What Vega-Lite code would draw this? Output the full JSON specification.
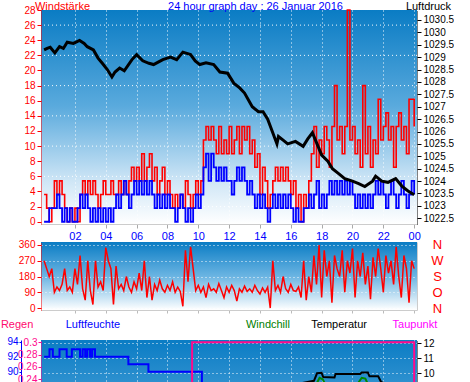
{
"$schema": "https://vega.github.io/schema/vega-lite/v6.json",
"padding": 0,
"background": "white",
"config": {
  "font": "Liberation Sans",
  "axis": {"labelFont": "Liberation Sans", "titleFont": "Liberation Sans", "labelFontSize": 10, "gridColor": "white", "gridDash": [1, 3], "gridOpacity": 0.95, "gridWidth": 1, "titleFontWeight": "normal"},
  "view": {"stroke": null}
},
"datasets": {
  "wind": [
    {"m":0,"g":3.6,"w":0},{"m":10,"g":1.8,"w":0},{"m":20,"g":0,"w":1.8},{"m":30,"g":1.8,"w":1.8},{"m":40,"g":5.4,"w":1.8},{"m":50,"g":3.6,"w":3.6},{"m":60,"g":5.4,"w":1.8},{"m":70,"g":3.6,"w":0},{"m":80,"g":1.8,"w":1.8},{"m":90,"g":0,"w":0},
    {"m":100,"g":1.8,"w":1.8},{"m":110,"g":0,"w":0},{"m":120,"g":1.8,"w":0},{"m":130,"g":0,"w":1.8},{"m":140,"g":3.6,"w":3.6},{"m":150,"g":5.4,"w":1.8},{"m":160,"g":3.6,"w":3.6},{"m":170,"g":5.4,"w":1.8},{"m":180,"g":3.6,"w":0},{"m":190,"g":5.4,"w":1.8},
    {"m":200,"g":3.6,"w":0},{"m":210,"g":1.8,"w":1.8},{"m":220,"g":3.6,"w":0},{"m":230,"g":5.4,"w":1.8},{"m":240,"g":3.6,"w":0},{"m":250,"g":3.6,"w":1.8},{"m":260,"g":5.4,"w":0},{"m":270,"g":3.6,"w":1.8},{"m":280,"g":3.6,"w":3.6},{"m":290,"g":5.4,"w":1.8},
    {"m":300,"g":3.6,"w":3.6},{"m":310,"g":5.4,"w":5.4},{"m":320,"g":3.6,"w":3.6},{"m":330,"g":5.4,"w":1.8},{"m":340,"g":7.2,"w":3.6},{"m":350,"g":5.4,"w":5.4},{"m":360,"g":7.2,"w":3.6},{"m":370,"g":5.4,"w":5.4},{"m":380,"g":9,"w":3.6},{"m":390,"g":5.4,"w":5.4},
    {"m":400,"g":7.2,"w":3.6},{"m":410,"g":9,"w":5.4},{"m":420,"g":5.4,"w":3.6},{"m":430,"g":7.2,"w":1.8},{"m":440,"g":3.6,"w":3.6},{"m":450,"g":5.4,"w":1.8},{"m":460,"g":7.2,"w":3.6},{"m":470,"g":3.6,"w":1.8},{"m":480,"g":5.4,"w":3.6},{"m":490,"g":3.6,"w":1.8},
    {"m":500,"g":1.8,"w":1.8},{"m":510,"g":3.6,"w":0},{"m":520,"g":1.8,"w":1.8},{"m":530,"g":3.6,"w":3.6},{"m":540,"g":1.8,"w":1.8},{"m":550,"g":5.4,"w":0},{"m":560,"g":3.6,"w":1.8},{"m":570,"g":1.8,"w":0},{"m":580,"g":3.6,"w":1.8},{"m":590,"g":5.4,"w":3.6},
    {"m":600,"g":3.6,"w":1.8},{"m":610,"g":5.4,"w":3.6},{"m":620,"g":10.8,"w":7.2},{"m":630,"g":12.6,"w":9},{"m":640,"g":10.8,"w":5.4},{"m":650,"g":12.6,"w":9},{"m":660,"g":10.8,"w":7.2},{"m":670,"g":9,"w":5.4},{"m":680,"g":12.6,"w":7.2},{"m":690,"g":9,"w":5.4},
    {"m":700,"g":10.8,"w":7.2},{"m":710,"g":9,"w":5.4},{"m":720,"g":12.6,"w":5.4},{"m":730,"g":9,"w":3.6},{"m":740,"g":10.8,"w":5.4},{"m":750,"g":12.6,"w":7.2},{"m":760,"g":9,"w":5.4},{"m":770,"g":12.6,"w":7.2},{"m":780,"g":10.8,"w":5.4},{"m":790,"g":12.6,"w":3.6},
    {"m":800,"g":9,"w":5.4},{"m":810,"g":10.8,"w":3.6},{"m":820,"g":7.2,"w":1.8},{"m":830,"g":9,"w":3.6},{"m":840,"g":3.6,"w":1.8},{"m":850,"g":7.2,"w":3.6},{"m":860,"g":5.4,"w":1.8},{"m":870,"g":1.8,"w":0},{"m":880,"g":3.6,"w":1.8},{"m":890,"g":5.4,"w":3.6},
    {"m":900,"g":7.2,"w":1.8},{"m":910,"g":5.4,"w":3.6},{"m":920,"g":7.2,"w":1.8},{"m":930,"g":5.4,"w":3.6},{"m":940,"g":7.2,"w":1.8},{"m":950,"g":5.4,"w":3.6},{"m":960,"g":3.6,"w":1.8},{"m":970,"g":5.4,"w":0},{"m":980,"g":1.8,"w":1.8},{"m":990,"g":3.6,"w":0},
    {"m":1000,"g":0,"w":0},{"m":1010,"g":3.6,"w":1.8},{"m":1020,"g":1.8,"w":1.8},{"m":1030,"g":5.4,"w":3.6},{"m":1040,"g":9,"w":1.8},{"m":1050,"g":12.6,"w":3.6},{"m":1060,"g":7.2,"w":5.4},{"m":1070,"g":10.8,"w":1.8},{"m":1080,"g":9,"w":3.6},{"m":1090,"g":12.6,"w":1.8},
    {"m":1100,"g":10.8,"w":3.6},{"m":1110,"g":7.2,"w":5.4},{"m":1120,"g":12.6,"w":3.6},{"m":1130,"g":18,"w":5.4},{"m":1140,"g":10.8,"w":3.6},{"m":1150,"g":12.6,"w":5.4},{"m":1160,"g":9,"w":3.6},{"m":1170,"g":12.6,"w":5.4},{"m":1180,"g":28,"w":3.6},{"m":1190,"g":10.8,"w":5.4},
    {"m":1200,"g":12.6,"w":3.6},{"m":1210,"g":9,"w":1.8},{"m":1220,"g":10.8,"w":3.6},{"m":1230,"g":7.2,"w":1.8},{"m":1240,"g":18,"w":3.6},{"m":1250,"g":9,"w":1.8},{"m":1260,"g":12.6,"w":3.6},{"m":1270,"g":7.2,"w":1.8},{"m":1280,"g":10.8,"w":3.6},{"m":1290,"g":9,"w":5.4},
    {"m":1300,"g":16.2,"w":3.6},{"m":1310,"g":10.8,"w":5.4},{"m":1320,"g":12.6,"w":3.6},{"m":1330,"g":14.4,"w":1.8},{"m":1340,"g":10.8,"w":3.6},{"m":1350,"g":12.6,"w":5.4},{"m":1360,"g":7.2,"w":3.6},{"m":1370,"g":12.6,"w":1.8},{"m":1380,"g":14.4,"w":3.6},{"m":1390,"g":10.8,"w":5.4},
    {"m":1400,"g":12.6,"w":3.6},{"m":1410,"g":9,"w":1.8},{"m":1420,"g":16.2,"w":3.6},{"m":1430,"g":16.2,"w":5.4},{"m":1440,"g":12.6,"w":3.6}
  ],
  "pres": [
    {"m":0,"p":1029.29},{"m":12,"p":1029.35},{"m":24,"p":1029.4},{"m":42,"p":1029.17},{"m":60,"p":1029.42},{"m":75,"p":1029.35},{"m":90,"p":1029.6},{"m":114,"p":1029.55},{"m":138,"p":1029.67},{"m":156,"p":1029.55},
    {"m":168,"p":1029.42},{"m":192,"p":1029.29},{"m":210,"p":1028.96},{"m":225,"p":1028.77},{"m":246,"p":1028.5},{"m":264,"p":1028.2},{"m":276,"p":1028.4},{"m":294,"p":1028.56},{"m":312,"p":1028.45},{"m":342,"p":1028.9},
    {"m":360,"p":1029.1},{"m":384,"p":1028.85},{"m":408,"p":1028.75},{"m":426,"p":1028.7},{"m":444,"p":1028.8},{"m":462,"p":1028.9},{"m":492,"p":1029.0},{"m":516,"p":1028.9},{"m":540,"p":1029.2},{"m":570,"p":1029.1},
    {"m":588,"p":1028.85},{"m":606,"p":1028.7},{"m":630,"p":1028.77},{"m":660,"p":1028.7},{"m":684,"p":1028.4},{"m":714,"p":1028.35},{"m":738,"p":1027.95},{"m":762,"p":1027.75},{"m":780,"p":1027.55},{"m":810,"p":1027.0},
    {"m":834,"p":1026.8},{"m":852,"p":1026.8},{"m":870,"p":1026.5},{"m":888,"p":1026.0},{"m":906,"p":1025.5},{"m":912,"p":1025.8},{"m":930,"p":1025.65},{"m":948,"p":1025.5},{"m":978,"p":1025.6},{"m":1008,"p":1025.4},
    {"m":1026,"p":1025.7},{"m":1044,"p":1025.95},{"m":1062,"p":1025.5},{"m":1080,"p":1025.05},{"m":1104,"p":1024.8},{"m":1122,"p":1024.5},{"m":1146,"p":1024.3},{"m":1170,"p":1024.1},{"m":1200,"p":1024.0},{"m":1224,"p":1023.9},
    {"m":1248,"p":1023.78},{"m":1278,"p":1024.0},{"m":1290,"p":1024.2},{"m":1314,"p":1024.0},{"m":1338,"p":1023.95},{"m":1368,"p":1024.1},{"m":1392,"p":1023.8},{"m":1416,"p":1023.6},{"m":1440,"p":1023.45}
  ],
  "hgrid": [{"v":2},{"v":6},{"v":10},{"v":14},{"v":18},{"v":22},{"v":26}],
  "dir": [
    {"m":0,"d":270},{"m":10,"d":225},{"m":20,"d":180},{"m":30,"d":225},{"m":40,"d":90},{"m":50,"d":120},{"m":60,"d":100},{"m":70,"d":135},{"m":80,"d":225},{"m":90,"d":100},
    {"m":100,"d":120},{"m":110,"d":90},{"m":120,"d":225},{"m":130,"d":135},{"m":140,"d":300},{"m":150,"d":110},{"m":160,"d":45},{"m":170,"d":270},{"m":180,"d":100},{"m":190,"d":20},
    {"m":200,"d":270},{"m":210,"d":120},{"m":220,"d":150},{"m":230,"d":100},{"m":240,"d":345},{"m":250,"d":270},{"m":260,"d":225},{"m":270,"d":20},{"m":280,"d":240},{"m":290,"d":110},
    {"m":300,"d":135},{"m":310,"d":100},{"m":320,"d":180},{"m":330,"d":120},{"m":340,"d":90},{"m":350,"d":150},{"m":360,"d":110},{"m":370,"d":200},{"m":380,"d":100},{"m":390,"d":270},
    {"m":400,"d":60},{"m":410,"d":180},{"m":420,"d":45},{"m":430,"d":135},{"m":440,"d":100},{"m":450,"d":160},{"m":460,"d":110},{"m":470,"d":90},{"m":480,"d":130},{"m":490,"d":100},
    {"m":500,"d":150},{"m":510,"d":90},{"m":520,"d":120},{"m":530,"d":95},{"m":540,"d":10},{"m":550,"d":330},{"m":560,"d":150},{"m":570,"d":350},{"m":580,"d":225},{"m":590,"d":100},
    {"m":600,"d":130},{"m":610,"d":90},{"m":620,"d":120},{"m":630,"d":60},{"m":640,"d":135},{"m":650,"d":100},{"m":660,"d":110},{"m":670,"d":90},{"m":680,"d":140},{"m":690,"d":100},
    {"m":700,"d":60},{"m":710,"d":120},{"m":720,"d":90},{"m":730,"d":130},{"m":740,"d":100},{"m":750,"d":40},{"m":760,"d":110},{"m":770,"d":90},{"m":780,"d":125},{"m":790,"d":95},
    {"m":800,"d":110},{"m":810,"d":90},{"m":820,"d":130},{"m":830,"d":100},{"m":840,"d":80},{"m":850,"d":115},{"m":860,"d":90},{"m":870,"d":120},{"m":880,"d":0},{"m":890,"d":270},
    {"m":900,"d":100},{"m":910,"d":130},{"m":920,"d":90},{"m":930,"d":180},{"m":940,"d":110},{"m":950,"d":90},{"m":960,"d":135},{"m":970,"d":100},{"m":980,"d":95},{"m":990,"d":120},
    {"m":1000,"d":60},{"m":1010,"d":270},{"m":1020,"d":45},{"m":1030,"d":180},{"m":1040,"d":90},{"m":1050,"d":300},{"m":1060,"d":135},{"m":1070,"d":360},{"m":1080,"d":60},{"m":1090,"d":330},
    {"m":1100,"d":180},{"m":1110,"d":270},{"m":1120,"d":30},{"m":1130,"d":300},{"m":1140,"d":225},{"m":1150,"d":180},{"m":1160,"d":330},{"m":1170,"d":90},{"m":1180,"d":270},{"m":1190,"d":200},
    {"m":1200,"d":340},{"m":1210,"d":60},{"m":1220,"d":270},{"m":1230,"d":180},{"m":1240,"d":315},{"m":1250,"d":135},{"m":1260,"d":240},{"m":1270,"d":50},{"m":1280,"d":290},{"m":1290,"d":180},
    {"m":1300,"d":340},{"m":1310,"d":225},{"m":1320,"d":90},{"m":1330,"d":300},{"m":1340,"d":200},{"m":1350,"d":270},{"m":1360,"d":135},{"m":1370,"d":350},{"m":1380,"d":180},{"m":1390,"d":60},
    {"m":1400,"d":300},{"m":1410,"d":225},{"m":1420,"d":30},{"m":1430,"d":270},{"m":1440,"d":225}
  ],
  "hum": [
    {"m":0,"h":92},{"m":21,"h":93},{"m":34,"h":92},{"m":60,"h":93},{"m":88,"h":92},{"m":108,"h":93},{"m":140,"h":92},{"m":150,"h":93},{"m":160,"h":92},{"m":168,"h":93},
    {"m":179,"h":92},{"m":187,"h":93},{"m":198,"h":92},{"m":328,"h":91},{"m":406,"h":90},{"m":614,"h":86},{"m":1440,"h":86}
  ],
  "rain": [{"m":0,"r":0.2},{"m":576,"r":0.3},{"m":1440,"r":0.2}],
  "temp": [
    {"m":0,"t":8.4},{"m":240,"t":8.2},{"m":480,"t":8.5},{"m":720,"t":8.9},{"m":960,"t":9.2},{"m":1050,"t":9.5},{"m":1062,"t":10.0},{"m":1080,"t":10.03},{"m":1086,"t":9.75},{"m":1130,"t":9.72},
    {"m":1134,"t":9.95},{"m":1230,"t":9.95},{"m":1236,"t":10.05},{"m":1260,"t":10.05},{"m":1266,"t":9.8},{"m":1300,"t":9.8},{"m":1312,"t":9.4},{"m":1380,"t":9.1},{"m":1440,"t":8.9}
  ],
  "chill": [
    {"m":0,"t":7},{"m":600,"t":7.5},{"m":1000,"t":8.5},{"m":1060,"t":9.3},{"m":1072,"t":9.7},{"m":1084,"t":9.6},{"m":1096,"t":9.2},{"m":1220,"t":9.3},{"m":1236,"t":9.7},{"m":1250,"t":9.65},{"m":1262,"t":9.2},{"m":1440,"t":7.8}
  ],
  "dew": [{"m":0,"t":7.9},{"m":720,"t":8.2},{"m":1440,"t":8.0}],
  "labels": [
    {"m":-105,"t":13.22,"s":"Regen"},{"m":190,"t":13.22,"s":"Luftfeuchte"},{"m":871,"t":13.22,"s":"Windchill"},{"m":1148,"t":13.22,"s":"Temperatur"},{"m":1443,"t":13.22,"s":"Taupunkt"}
  ]
},
"bounds": "flush",
"spacing": 18,
"vconcat": [
  {
    "width": 376,
    "height": 214,
    "view": {"stroke": null, "fill": {"gradient": "linear", "x1": 0, "y1": 0, "x2": 0, "y2": 1, "stops": [{"offset": 0, "color": "#0a7cc4"}, {"offset": 0.45, "color": "#5aaadd"}, {"offset": 0.8, "color": "#cfe6f6"}, {"offset": 1, "color": "#ffffff"}]}},
    "layer": [
      {
        "layer": [
          {
            "data": {"name": "hgrid"},
            "mark": {"type": "rule", "color": "white", "strokeDash": [1, 3], "opacity": 0.95},
            "encoding": {
              "y": {"field": "v", "type": "quantitative", "scale": {"domain": [-0.3, 28]}, "axis": {"orient": "left", "values": [0,2,4,6,8,10,12,14,16,18,20,22,24,26,28], "title": "Windstärke", "titleColor": "#ff0000", "titleFontSize": 11, "titleAngle": 0, "titleAlign": "center", "titleBaseline": "alphabetic", "titleX": 21, "titleY": -1, "labelColor": "#ff0000", "labelFontSize": 10, "tickColor": "#ff0000", "tickSize": 4, "labelPadding": 2, "domainColor": "#ff0000", "domainDash": [1, 1], "grid": false}}
            }
          },
          {
            "data": {"name": "wind"},
            "mark": {"type": "line", "interpolate": "step-after", "color": "#ff0000", "strokeWidth": 1.6},
            "encoding": {
              "x": {"field": "m", "type": "quantitative", "scale": {"domain": [-12, 1451]}, "axis": {"values": [120,240,360,480,600,720,840,960,1080,1200,1320,1440], "labelExpr": "datum.value == 1440 ? '00' : (datum.value < 600 ? '0' : '') + (datum.value / 60)", "labelColor": "#0000ff", "labelFontSize": 11, "tickColor": "#aaaaaa", "tickSize": 4, "labelPadding": 2, "domainColor": "#cccccc", "grid": true, "title": "24 hour graph day : 26 Januar 2016", "titleColor": "#0000ff", "titleFontSize": 11, "titleAlign": "center", "titleBaseline": "alphabetic", "titleAngle": 0, "titleX": 214, "titleY": -215}},
              "y": {"field": "g", "type": "quantitative", "scale": {"domain": [-0.3, 28]}, "axis": {"orient": "left", "values": [0,2,4,6,8,10,12,14,16,18,20,22,24,26,28], "title": "Windstärke", "titleColor": "#ff0000", "titleFontSize": 11, "titleAngle": 0, "titleAlign": "center", "titleBaseline": "alphabetic", "titleX": 21, "titleY": -1, "labelColor": "#ff0000", "labelFontSize": 10, "tickColor": "#ff0000", "tickSize": 4, "labelPadding": 2, "domainColor": "#ff0000", "domainDash": [1, 1], "grid": false}}
            }
          },
          {
            "data": {"name": "wind"},
            "mark": {"type": "line", "interpolate": "step-after", "color": "#0000ff", "strokeWidth": 1.8},
            "encoding": {
              "x": {"field": "m", "type": "quantitative", "scale": {"domain": [-12, 1451]}, "axis": {"values": [120,240,360,480,600,720,840,960,1080,1200,1320,1440], "labelExpr": "datum.value == 1440 ? '00' : (datum.value < 600 ? '0' : '') + (datum.value / 60)", "labelColor": "#0000ff", "labelFontSize": 11, "tickColor": "#aaaaaa", "tickSize": 4, "labelPadding": 2, "domainColor": "#cccccc", "grid": true, "title": "24 hour graph day : 26 Januar 2016", "titleColor": "#0000ff", "titleFontSize": 11, "titleAlign": "center", "titleBaseline": "alphabetic", "titleAngle": 0, "titleX": 214, "titleY": -215}},
              "y": {"field": "w", "type": "quantitative", "scale": {"domain": [-0.3, 28]}, "axis": {"orient": "left", "values": [0,2,4,6,8,10,12,14,16,18,20,22,24,26,28], "title": "Windstärke", "titleColor": "#ff0000", "titleFontSize": 11, "titleAngle": 0, "titleAlign": "center", "titleBaseline": "alphabetic", "titleX": 21, "titleY": -1, "labelColor": "#ff0000", "labelFontSize": 10, "tickColor": "#ff0000", "tickSize": 4, "labelPadding": 2, "domainColor": "#ff0000", "domainDash": [1, 1], "grid": false}}
            }
          },
          {
            "mark": {"type": "rule", "color": "#000000", "strokeWidth": 2},
            "encoding": {
              "x": {"datum": -167, "type": "quantitative", "scale": {"domain": [-12, 1451]}, "axis": {"values": [120,240,360,480,600,720,840,960,1080,1200,1320,1440], "labelExpr": "datum.value == 1440 ? '00' : (datum.value < 600 ? '0' : '') + (datum.value / 60)", "labelColor": "#0000ff", "labelFontSize": 11, "tickColor": "#aaaaaa", "tickSize": 4, "labelPadding": 2, "domainColor": "#cccccc", "grid": true, "title": "24 hour graph day : 26 Januar 2016", "titleColor": "#0000ff", "titleFontSize": 11, "titleAlign": "center", "titleBaseline": "alphabetic", "titleAngle": 0, "titleX": 214, "titleY": -215}},
              "y": {"datum": 29.3, "type": "quantitative", "scale": {"domain": [-0.3, 28]}, "axis": {"orient": "left", "values": [0,2,4,6,8,10,12,14,16,18,20,22,24,26,28], "title": "Windstärke", "titleColor": "#ff0000", "titleFontSize": 11, "titleAngle": 0, "titleAlign": "center", "titleBaseline": "alphabetic", "titleX": 21, "titleY": -1, "labelColor": "#ff0000", "labelFontSize": 10, "tickColor": "#ff0000", "tickSize": 4, "labelPadding": 2, "domainColor": "#ff0000", "domainDash": [1, 1], "grid": false}},
              "y2": {"datum": -25}
            }
          },
          {
            "mark": {"type": "rule", "color": "#000000", "strokeWidth": 2},
            "encoding": {
              "x": {"datum": 1630, "type": "quantitative", "scale": {"domain": [-12, 1451]}, "axis": {"values": [120,240,360,480,600,720,840,960,1080,1200,1320,1440], "labelExpr": "datum.value == 1440 ? '00' : (datum.value < 600 ? '0' : '') + (datum.value / 60)", "labelColor": "#0000ff", "labelFontSize": 11, "tickColor": "#aaaaaa", "tickSize": 4, "labelPadding": 2, "domainColor": "#cccccc", "grid": true, "title": "24 hour graph day : 26 Januar 2016", "titleColor": "#0000ff", "titleFontSize": 11, "titleAlign": "center", "titleBaseline": "alphabetic", "titleAngle": 0, "titleX": 214, "titleY": -215}},
              "y": {"datum": 29.3, "type": "quantitative", "scale": {"domain": [-0.3, 28]}, "axis": {"orient": "left", "values": [0,2,4,6,8,10,12,14,16,18,20,22,24,26,28], "title": "Windstärke", "titleColor": "#ff0000", "titleFontSize": 11, "titleAngle": 0, "titleAlign": "center", "titleBaseline": "alphabetic", "titleX": 21, "titleY": -1, "labelColor": "#ff0000", "labelFontSize": 10, "tickColor": "#ff0000", "tickSize": 4, "labelPadding": 2, "domainColor": "#ff0000", "domainDash": [1, 1], "grid": false}},
              "y2": {"datum": -25}
            }
          }
        ]
      },
      {
        "data": {"name": "pres"},
        "mark": {"type": "line", "color": "#000000", "strokeWidth": 3},
        "encoding": {
          "x": {"field": "m", "type": "quantitative", "scale": {"domain": [-12, 1451]}, "axis": {"values": [120,240,360,480,600,720,840,960,1080,1200,1320,1440], "labelExpr": "datum.value == 1440 ? '00' : (datum.value < 600 ? '0' : '') + (datum.value / 60)", "labelColor": "#0000ff", "labelFontSize": 11, "tickColor": "#aaaaaa", "tickSize": 4, "labelPadding": 2, "domainColor": "#cccccc", "grid": true, "title": "24 hour graph day : 26 Januar 2016", "titleColor": "#0000ff", "titleFontSize": 11, "titleAlign": "center", "titleBaseline": "alphabetic", "titleAngle": 0, "titleX": 214, "titleY": -215}},
          "y": {"field": "p", "type": "quantitative", "scale": {"domain": [1022.27, 1030.9]}, "axis": {"orient": "right", "values": [1022.5,1023,1023.5,1024,1024.5,1025,1025.5,1026,1026.5,1027,1027.5,1028,1028.5,1029,1029.5,1030,1030.5], "format": "~f", "title": "Luftdruck", "titleColor": "#000000", "titleFontSize": 11, "titleAngle": 0, "titleAlign": "center", "titleBaseline": "alphabetic", "titleX": 11, "titleY": -1, "labelColor": "#000000", "labelFontSize": 10, "tickColor": "#000000", "tickSize": 4, "labelPadding": 2, "domainColor": "#000000", "domainDash": [1, 1], "grid": false}}
        }
      }
    ],
    "resolve": {"scale": {"y": "independent"}}
  },
  {
    "bounds": "flush",
    "spacing": 30,
    "vconcat": [
      {
        "width": 376,
        "height": 68,
        "data": {"name": "dir"},
        "view": {"stroke": null, "fill": {"gradient": "linear", "x1": 0, "y1": 0, "x2": 0, "y2": 1, "stops": [{"offset": 0, "color": "#0a7cc4"}, {"offset": 0.5, "color": "#6ab4e2"}, {"offset": 1, "color": "#ffffff"}]}},
        "layer": [
          {
            "mark": {"type": "line", "color": "#ff0000", "strokeWidth": 1.5},
            "encoding": {
              "x": {"field": "m", "type": "quantitative", "scale": {"domain": [-12, 1451]}, "axis": {"values": [120,240,360,480,600,720,840,960,1080,1200,1320,1440], "labels": false, "tickColor": "#bbbbbb", "tickSize": 3, "domainColor": "#cccccc", "grid": false, "title": null}},
              "y": {"field": "d", "type": "quantitative", "scale": {"domain": [-11, 377]}, "axis": {"orient": "left", "values": [0, 90, 180, 270, 360], "title": null, "labelColor": "#ff0000", "labelFontSize": 10, "tickColor": "#ff0000", "tickSize": 4, "labelPadding": 2, "domainColor": "#ff0000", "domainDash": [1, 1], "grid": true}}
            }
          },
          {
            "mark": {"type": "line", "opacity": 0},
            "encoding": {
              "x": {"field": "m", "type": "quantitative", "scale": {"domain": [-12, 1451]}, "axis": {"values": [120,240,360,480,600,720,840,960,1080,1200,1320,1440], "labels": false, "tickColor": "#bbbbbb", "tickSize": 3, "domainColor": "#cccccc", "grid": false, "title": null}},
              "y": {"field": "d", "type": "quantitative", "scale": {"domain": [-11, 377]}, "axis": {"orient": "right", "values": [0, 90, 180, 270, 360], "labelExpr": "datum.value == 0 || datum.value == 360 ? 'N' : datum.value == 90 ? 'O' : datum.value == 180 ? 'S' : 'W'", "title": null, "labelColor": "#ff0000", "labelFontSize": 13, "labelAlign": "center", "labelPadding": 20, "ticks": false, "domainColor": "#cccccc", "grid": false}}
            }
          }
        ],
        "resolve": {"axis": {"y": "independent"}}
      },
      {
        "width": 376,
        "height": 214,
        "view": {"stroke": null, "fill": {"gradient": "linear", "x1": 0, "y1": 0, "x2": 0, "y2": 1, "stops": [{"offset": 0, "color": "#0a7cc4"}, {"offset": 0.45, "color": "#5aaadd"}, {"offset": 0.8, "color": "#cfe6f6"}, {"offset": 1, "color": "#ffffff"}]}},
        "layer": [
          {
            "data": {"name": "hum"},
            "mark": {"type": "line", "interpolate": "step-after", "color": "#0000ff", "strokeWidth": 2},
            "encoding": {
              "x": {"field": "m", "type": "quantitative", "scale": {"domain": [-12, 1451]}, "axis": {"values": [120,240,360,480,600,720,840,960,1080,1200,1320,1440], "labels": false, "ticks": false, "domain": false, "grid": true, "title": null}},
              "y": {"field": "h", "type": "quantitative", "scale": {"domain": [65.7, 94.23]}, "axis": {"orient": "left", "offset": 20, "values": [66,68,70,72,74,76,78,80,82,84,86,88,90,92,94], "format": "d", "title": null, "labelColor": "#0000ff", "labelFontSize": 10, "tickColor": "#0000ff", "tickSize": 2, "labelPadding": 1, "domainColor": "#0000ff", "grid": false}}
            }
          },
          {
            "data": {"name": "rain"},
            "mark": {"type": "line", "interpolate": "step-after", "color": "#ff0a8c", "strokeWidth": 2},
            "encoding": {
              "x": {"field": "m", "type": "quantitative", "scale": {"domain": [-12, 1451]}, "axis": {"values": [120,240,360,480,600,720,840,960,1080,1200,1320,1440], "labels": false, "ticks": false, "domain": false, "grid": true, "title": null}},
              "y": {"field": "r", "type": "quantitative", "scale": {"domain": [-0.0433, 0.3037]}, "axis": {"orient": "left", "values": [0,0.02,0.04,0.06,0.08,0.1,0.12,0.14,0.16,0.18,0.2,0.22,0.24,0.26,0.28,0.3], "format": "~g", "title": null, "labelColor": "#ff0a8c", "labelFontSize": 10, "tickColor": "#ff0a8c", "tickSize": 3, "labelPadding": 1, "domainColor": "#ff0a8c", "domainDash": [1, 1], "grid": false}}
            }
          },
          {
            "layer": [
              {
                "data": {"name": "dew"},
                "mark": {"type": "line", "color": "#ff00ff", "strokeWidth": 2},
                "encoding": {
                  "x": {"field": "m", "type": "quantitative", "scale": {"domain": [-12, 1451]}, "axis": {"values": [120,240,360,480,600,720,840,960,1080,1200,1320,1440], "labels": false, "ticks": false, "domain": false, "grid": true, "title": null}},
                  "y": {"field": "t", "type": "quantitative", "scale": {"domain": [-2.05, 12.22]}, "axis": {"orient": "right", "values": [-2,-1,0,1,2,3,4,5,6,7,8,9,10,11,12], "format": "d", "title": null, "labelColor": "#000000", "labelFontSize": 10, "tickColor": "#000000", "tickSize": 4, "labelPadding": 2, "domainColor": "#000000", "domainDash": [1, 1], "grid": true}}
                }
              },
              {
                "data": {"name": "chill"},
                "mark": {"type": "line", "color": "#008800", "strokeWidth": 2},
                "encoding": {
                  "x": {"field": "m", "type": "quantitative", "scale": {"domain": [-12, 1451]}, "axis": {"values": [120,240,360,480,600,720,840,960,1080,1200,1320,1440], "labels": false, "ticks": false, "domain": false, "grid": true, "title": null}},
                  "y": {"field": "t", "type": "quantitative", "scale": {"domain": [-2.05, 12.22]}, "axis": {"orient": "right", "values": [-2,-1,0,1,2,3,4,5,6,7,8,9,10,11,12], "format": "d", "title": null, "labelColor": "#000000", "labelFontSize": 10, "tickColor": "#000000", "tickSize": 4, "labelPadding": 2, "domainColor": "#000000", "domainDash": [1, 1], "grid": true}}
                }
              },
              {
                "data": {"name": "temp"},
                "mark": {"type": "line", "color": "#000000", "strokeWidth": 2},
                "encoding": {
                  "x": {"field": "m", "type": "quantitative", "scale": {"domain": [-12, 1451]}, "axis": {"values": [120,240,360,480,600,720,840,960,1080,1200,1320,1440], "labels": false, "ticks": false, "domain": false, "grid": true, "title": null}},
                  "y": {"field": "t", "type": "quantitative", "scale": {"domain": [-2.05, 12.22]}, "axis": {"orient": "right", "values": [-2,-1,0,1,2,3,4,5,6,7,8,9,10,11,12], "format": "d", "title": null, "labelColor": "#000000", "labelFontSize": 10, "tickColor": "#000000", "tickSize": 4, "labelPadding": 2, "domainColor": "#000000", "domainDash": [1, 1], "grid": true}}
                }
              },
              {
                "data": {"name": "labels"},
                "mark": {"type": "text", "fontSize": 11, "baseline": "middle", "align": "center", "font": "Liberation Sans"},
                "encoding": {
                  "x": {"field": "m", "type": "quantitative", "scale": {"domain": [-12, 1451]}, "axis": {"values": [120,240,360,480,600,720,840,960,1080,1200,1320,1440], "labels": false, "ticks": false, "domain": false, "grid": true, "title": null}},
                  "y": {"field": "t", "type": "quantitative", "scale": {"domain": [-2.05, 12.22]}, "axis": {"orient": "right", "values": [-2,-1,0,1,2,3,4,5,6,7,8,9,10,11,12], "format": "d", "title": null, "labelColor": "#000000", "labelFontSize": 10, "tickColor": "#000000", "tickSize": 4, "labelPadding": 2, "domainColor": "#000000", "domainDash": [1, 1], "grid": true}},
                  "text": {"field": "s", "type": "nominal"},
                  "color": {"field": "s", "type": "nominal", "scale": {"domain": ["Regen", "Luftfeuchte", "Windchill", "Temperatur", "Taupunkt"], "range": ["#ff0a6e", "#0000ff", "#008000", "#000000", "#ff00ff"]}, "legend": null}
                }
              }
            ]
          }
        ],
        "resolve": {"scale": {"y": "independent"}}
      }
    ]
  }
]
}
